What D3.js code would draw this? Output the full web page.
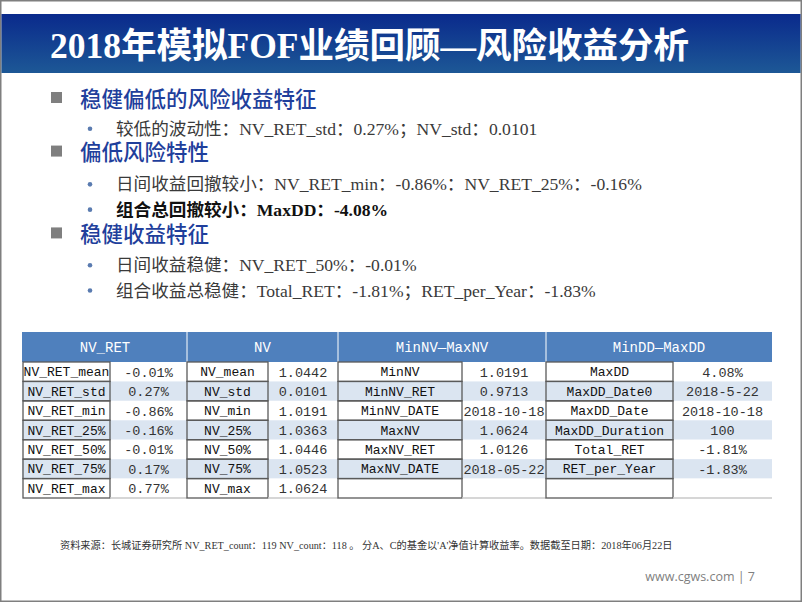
<!DOCTYPE html>
<html>
<head>
<meta charset="utf-8">
<script src="https://cdn.jsdelivr.net/npm/d3@7"></script>
<style>
  body { margin: 0; background: #fff; }
  svg { display: block; }
</style>
</head>
<body>
<div id="slide"></div>
<script>
// slide: 2018年模拟FOF业绩回顾 — 风险收益分析 (bullets + stats table)

const titleText = "2018年模拟FOF业绩回顾—风险收益分析";

// bullet list: level 1 = heading, level 2 = sub item
const bulletLines = [
  { level: 1, text: "稳健偏低的风险收益特征" },
  { level: 2, text: "较低的波动性：NV_RET_std：0.27%；NV_std：0.0101" },
  { level: 1, text: "偏低风险特性" },
  { level: 2, text: "日间收益回撤较小：NV_RET_min：-0.86%：NV_RET_25%：-0.16%" },
  { level: 2, text: "组合总回撤较小：MaxDD：-4.08%", bold: true },
  { level: 1, text: "稳健收益特征" },
  { level: 2, text: "日间收益稳健：NV_RET_50%：-0.01%" },
  { level: 2, text: "组合收益总稳健：Total_RET：-1.81%；RET_per_Year：-1.83%" }
];

// table data
const groupHeaders = ["NV_RET", "NV", "MinNV—MaxNV", "MinDD—MaxDD"];
const nvRetLabels = ["NV_RET_mean", "NV_RET_std", "NV_RET_min", "NV_RET_25%", "NV_RET_50%", "NV_RET_75%", "NV_RET_max"];
const nvRetValues = ["-0.01%", "0.27%", "-0.86%", "-0.16%", "-0.01%", "0.17%", "0.77%"];
const nvLabels = ["NV_mean", "NV_std", "NV_min", "NV_25%", "NV_50%", "NV_75%", "NV_max"];
const nvValues = ["1.0442", "0.0101", "1.0191", "1.0363", "1.0446", "1.0523", "1.0624"];
const minMaxNvLabels = ["MinNV", "MinNV_RET", "MinNV_DATE", "MaxNV", "MaxNV_RET", "MaxNV_DATE", ""];
const minMaxNvValues = ["1.0191", "0.9713", "2018-10-18", "1.0624", "1.0126", "2018-05-22", ""];
const ddLabels = ["MaxDD", "MaxDD_Date0", "MaxDD_Date", "MaxDD_Duration", "Total_RET", "RET_per_Year", ""];
const ddValues = ["4.08%", "2018-5-22", "2018-10-18", "100", "-1.81%", "-1.83%", ""];

const footnote = "资料来源：长城证券研究所 NV_RET_count：119 NV_count：118 。 分A、C的基金以'A'净值计算收益率。数据截至日期：2018年06月22日";
const pageInfo = "www.cgws.com | 7";

/* ---- layout ---- */
const W = 802, H = 602;
const svg = d3.select("#slide").append("svg").attr("width", W).attr("height", H);

const defs = svg.append("defs");
const grad = defs.append("linearGradient").attr("id", "band").attr("x1", 0).attr("y1", 0).attr("x2", 0).attr("y2", 1);
grad.append("stop").attr("offset", "0%").attr("stop-color", "#0a2a8c");
grad.append("stop").attr("offset", "100%").attr("stop-color", "#1d5896");

// page frame
svg.append("rect").attr("x", 0.75).attr("y", 0.75).attr("width", W - 1.5).attr("height", H - 1.5)
  .attr("fill", "#fff").attr("stroke", "#7f7f7f").attr("stroke-width", 1.5);

// title band
svg.append("rect").attr("x", 1.5).attr("y", 14).attr("width", W - 3).attr("height", 59).attr("fill", "url(#band)");
svg.append("text")
  .attr("x", 50).attr("y", 58)
  .attr("fill", "#fff")
  .style("font-family", "'Liberation Serif', 'Noto Sans CJK SC', serif")
  .style("font-weight", "700")
  .style("font-size", "35.5px")
  .text(titleText);

// bullets
const lineY = d3.scalePoint().domain(d3.range(bulletLines.length)).range([99, 290]);
const yOffsets = [0, 2, -1, 3, 1, -1, 2, 0]; // small nudges to follow slide spacing
const bl = svg.append("g").selectAll("g").data(bulletLines).join("g")
  .attr("transform", (d, i) => `translate(0,${lineY(i) + yOffsets[i]})`);

bl.filter(d => d.level === 1).append("rect")
  .attr("x", 51).attr("y", -7).attr("width", 11).attr("height", 11).attr("fill", "#7f7f7f");
bl.filter(d => d.level === 1).append("text")
  .attr("x", 80).attr("y", 7.5)
  .attr("fill", "#1f3f9c")
  .style("font-family", "'Noto Sans CJK SC', sans-serif")
  .style("font-size", "21.5px")
  .style("font-weight", "500")
  .text(d => d.text);

// sub bullet dot
bl.filter(d => d.level === 2).append("circle")
  .attr("cx", 90).attr("cy", 0.5).attr("r", 2.3)
  .attr("fill", "#5a7bb0");
bl.filter(d => d.level === 2).append("text")
  .attr("x", 116).attr("y", 6.5)
  .attr("fill", d => d.bold ? "#111" : "#3a3a3a")
  .style("font-family", "'Liberation Serif', 'Noto Sans CJK SC', serif")
  .style("font-size", "17.6px")
  .style("font-weight", d => d.bold ? "700" : "400")
  .text(d => d.text);

// table
const groups = [
  { labels: nvRetLabels, values: nvRetValues },
  { labels: nvLabels, values: nvValues },
  { labels: minMaxNvLabels, values: minMaxNvValues },
  { labels: ddLabels, values: ddValues }
];
// column edges: [labelStart, valueStart, groupEnd]
const colEdges = [[23, 110, 187], [187, 268, 338], [338, 462, 546], [546, 673, 772]];
const headTop = 332, headBottom = 362, tableBottom = 498;
const rowY = d3.scaleBand().domain(d3.range(nvRetLabels.length)).range([headBottom, tableBottom]);
const monoFont = "'Liberation Mono', 'DejaVu Sans Mono', monospace";

const tbl = svg.append("g");

// header row
tbl.append("rect").attr("x", 22).attr("y", headTop).attr("width", 772 - 22).attr("height", headBottom - headTop).attr("fill", "#4f80bd");
groups.forEach((g, gi) => {
  const [x0, , x2] = colEdges[gi];
  if (gi > 0) tbl.append("line").attr("x1", x0).attr("x2", x0).attr("y1", headTop).attr("y2", headBottom)
    .attr("stroke", "#fff").attr("stroke-width", 1);
  tbl.append("text")
    .attr("x", (x0 + x2) / 2).attr("y", (headTop + headBottom) / 2 + 5)
    .attr("text-anchor", "middle").attr("fill", "#fff")
    .style("font-family", monoFont).style("font-size", "14px")
    .text(groupHeaders[gi]);
});

// row backgrounds
tbl.selectAll(".rowbg").data(d3.range(nvRetLabels.length)).join("rect")
  .attr("class", "rowbg")
  .attr("x", 22).attr("y", i => rowY(i))
  .attr("width", 772 - 22).attr("height", rowY.bandwidth())
  .attr("fill", i => i % 2 === 1 ? "#dbe5f1" : "#fff");

groups.forEach((g, gi) => {
  const [x0, x1, x2] = colEdges[gi];
  const cells = tbl.append("g").selectAll("g").data(g.labels.map((l, i) => ({ label: l, value: g.values[i], i })))
    .join("g");
  // label cell box
  cells.append("rect")
    .attr("x", x0).attr("y", d => rowY(d.i))
    .attr("width", x1 - x0).attr("height", rowY.bandwidth())
    .attr("fill", "none").attr("stroke", "#5a5a5a").attr("stroke-width", 1.3);
  cells.append("text")
    .attr("x", (x0 + x1) / 2).attr("y", d => rowY(d.i) + rowY.bandwidth() / 2 + 4.5)
    .attr("text-anchor", "middle").attr("fill", "#111")
    .style("font-family", monoFont).style("font-size", "13px")
    .text(d => d.label);
  cells.append("text")
    .attr("x", (x1 + x2) / 2).attr("y", d => rowY(d.i) + rowY.bandwidth() / 2 + 5)
    .attr("text-anchor", "middle").attr("fill", "#333")
    .style("font-family", monoFont).style("font-size", "13.5px")
    .text(d => d.value);
  // light bottom rule under value column
  tbl.append("line").attr("x1", x1).attr("x2", x2).attr("y1", tableBottom).attr("y2", tableBottom)
    .attr("stroke", "#c8c8c8").attr("stroke-width", 1.5);
});

// footnote & page number
svg.append("text")
  .attr("x", 60).attr("y", 549)
  .attr("fill", "#333")
  .style("font-family", "'Liberation Serif', 'Noto Sans CJK SC', serif")
  .style("font-size", "10.2px")
  .text(footnote);
svg.append("text")
  .attr("x", 755).attr("y", 581)
  .attr("text-anchor", "end").attr("fill", "#7f7f7f")
  .style("font-family", "'Open Sans', sans-serif")
  .style("font-size", "12.5px")
  .text(pageInfo);
</script>
</body>
</html>
